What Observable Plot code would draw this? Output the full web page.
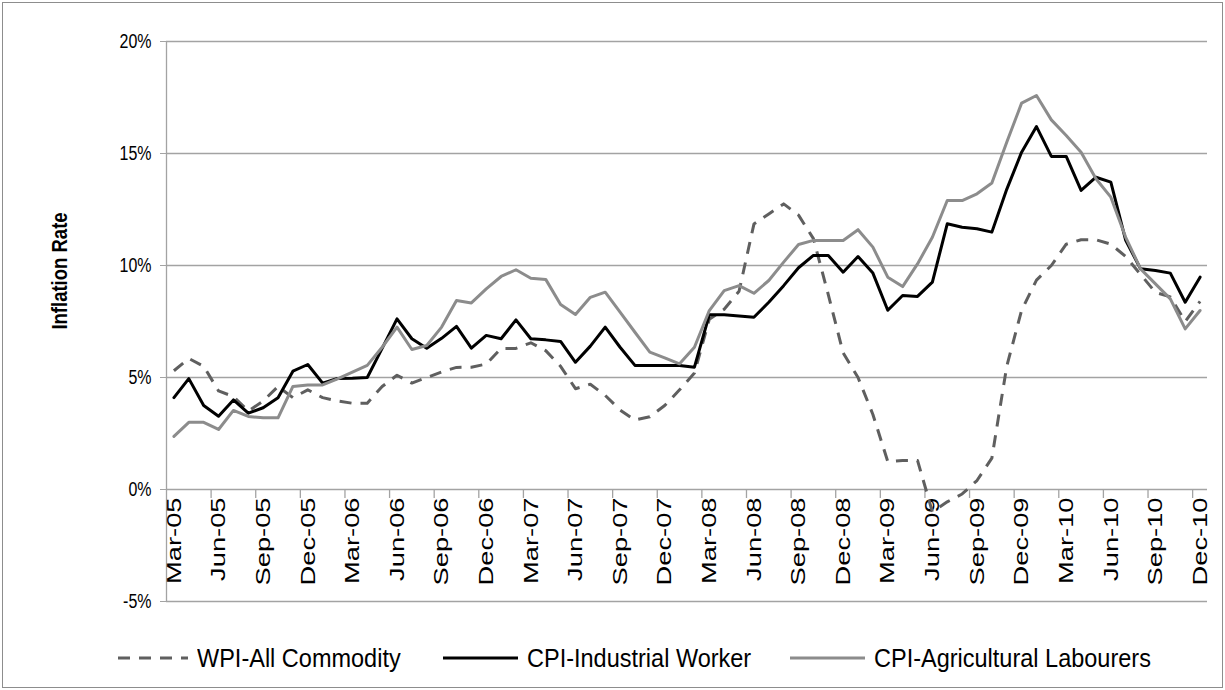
<!DOCTYPE html>
<html>
<head>
<meta charset="utf-8">
<script src="https://cdn.jsdelivr.net/npm/d3@7"></script>
<script src="https://cdn.jsdelivr.net/npm/@observablehq/plot@0.6"></script>
<style>
  html, body { margin: 0; padding: 0; background: #fff; }
  #page { position: relative; width: 1225px; height: 690px; font-family: "Liberation Sans", Arial, sans-serif; color: #000; }
  #frame { position: absolute; left: 2px; top: 2px; width: 1221px; height: 686px; box-sizing: border-box; border: 1px solid #8d8d8d; }
  #chart { position: absolute; left: 0; top: 0; }
  #ylabel { position: absolute; left: 60px; top: 271px; transform: translate(-50%, -50%) rotate(-90deg) scaleY(1.2); font-weight: bold; font-size: 18.5px; white-space: nowrap; }
  .leg { position: absolute; top: 645px; height: 26px; display: flex; align-items: center; font-size: 23.5px; white-space: nowrap; }
  .leg svg { margin-right: 9px; }
  .leg span { display: inline-block; transform: scaleY(1.1); transform-origin: left center; }
</style>
</head>
<body>
<div id="page">
  <div id="frame"></div>
  <div id="chart"></div>
  <div id="ylabel">Inflation Rate</div>
  <div id="legend"></div>
</div>
<script>
// Category labels (months)
const months = [
  "Mar-05","Apr-05","May-05","Jun-05","Jul-05","Aug-05","Sep-05","Oct-05","Nov-05","Dec-05",
  "Jan-06","Feb-06","Mar-06","Apr-06","May-06","Jun-06","Jul-06","Aug-06","Sep-06","Oct-06","Nov-06","Dec-06",
  "Jan-07","Feb-07","Mar-07","Apr-07","May-07","Jun-07","Jul-07","Aug-07","Sep-07","Oct-07","Nov-07","Dec-07",
  "Jan-08","Feb-08","Mar-08","Apr-08","May-08","Jun-08","Jul-08","Aug-08","Sep-08","Oct-08","Nov-08","Dec-08",
  "Jan-09","Feb-09","Mar-09","Apr-09","May-09","Jun-09","Jul-09","Aug-09","Sep-09","Oct-09","Nov-09","Dec-09",
  "Jan-10","Feb-10","Mar-10","Apr-10","May-10","Jun-10","Jul-10","Aug-10","Sep-10","Oct-10","Nov-10","Dec-10"
];

// Series values (percent)
const wpiAllCommodity = [
  5.3, 5.85, 5.5, 4.4, 4.15, 3.5, 3.95, 4.6, 4.1, 4.45,
  4.1, 3.95, 3.85, 3.85, 4.6, 5.1, 4.75, 5.0, 5.25, 5.45, 5.46, 5.6,
  6.3, 6.3, 6.55, 6.2, 5.5, 4.5, 4.7, 4.2, 3.55, 3.1, 3.25, 3.75,
  4.45, 5.2, 7.6, 8.05, 8.85, 11.85, 12.3, 12.75, 12.25, 11.2, 8.7, 6.1,
  5.0, 3.35, 1.25, 1.3, 1.3, -1.0, -0.55, -0.2, 0.4, 1.4, 5.5, 8.0,
  9.35, 10.0, 10.95, 11.15, 11.15, 10.95, 10.4, 9.6, 8.8, 8.6, 7.5, 8.4
];
const cpiIndustrialWorker = [
  4.1, 4.95, 3.75, 3.27, 4.0, 3.41, 3.65, 4.1, 5.28, 5.58,
  4.75, 4.96, 4.97, 5.0, 6.3, 7.62, 6.73, 6.31, 6.75, 7.28, 6.31, 6.88,
  6.73, 7.57, 6.73, 6.68, 6.61, 5.68, 6.4, 7.25, 6.35, 5.54, 5.54, 5.54,
  5.54, 5.46, 7.8, 7.8, 7.75, 7.69, 8.36, 9.1, 9.9, 10.45, 10.45, 9.7,
  10.4, 9.66, 8.0, 8.66, 8.62, 9.26, 11.86, 11.71, 11.64, 11.49, 13.4, 15.06,
  16.2, 14.87, 14.87, 13.35, 13.94, 13.72, 11.12, 9.85, 9.78, 9.66, 8.36, 9.48
];
const cpiAgriculturalLabourers = [
  2.37, 3.0, 3.0, 2.68, 3.53, 3.26, 3.2, 3.2, 4.6, 4.67,
  4.67, 4.94, 5.24, 5.54, 6.35, 7.25, 6.25, 6.43, 7.25, 8.44, 8.33, 8.96,
  9.51, 9.81, 9.43, 9.38, 8.26, 7.81, 8.58, 8.81, 7.92, 7.02, 6.13, 5.88,
  5.61, 6.35, 7.99, 8.88, 9.1, 8.76, 9.33, 10.15, 10.94, 11.12, 11.12, 11.12,
  11.6, 10.82, 9.48, 9.06, 10.07, 11.26, 12.9, 12.9, 13.2, 13.68, 15.5, 17.25,
  17.59, 16.5, 15.8, 15.06, 13.87, 13.05, 11.26, 9.85, 9.18, 8.51, 7.17, 7.99
];

// Axis ticks
const yTicks = [-5, 0, 5, 10, 15, 20];
const labelStep = 3;

const seriesNames = ["WPI-All Commodity", "CPI-Industrial Worker", "CPI-Agricultural Labourers"];
const seriesColors = ["#5f5f5f", "#000000", "#8c8c8c"];
const seriesDash = ["12,9", null, null];

const toRows = arr => arr.map((v, i) => ({i, v}));
const labelIdx = months.map((m, i) => i).filter(i => i % labelStep === 0);
const tickIdx = labelIdx.filter(i => i > 0).map(i => i - 0.5);

const chart = Plot.plot({
  width: 1225,
  height: 625,
  marginLeft: 166,
  marginRight: 18,
  marginTop: 41,
  marginBottom: 24,
  style: {fontFamily: "'Liberation Sans', Arial, sans-serif", fontSize: "16px", color: "#000", background: "transparent", overflow: "visible"},
  x: {type: "linear", domain: [-0.5, months.length - 0.5], axis: null},
  y: {domain: [-5, 20]},
  marks: [
    Plot.ruleY(yTicks, {stroke: "#a3a3a3", strokeWidth: 1.3}),
    Plot.ruleX([-0.5], {stroke: "#a3a3a3", strokeWidth: 1.3}),
    Plot.axisY(yTicks, {tickSize: 6, tickPadding: 9, tickFormat: d => `${d}%`, fontSize: 16, stroke: "#a3a3a3", fill: "#000", label: null}),
    Plot.ruleX(tickIdx, {x: d => d, y1: () => 0, y2: () => 0, insetBottom: -9, stroke: "#a3a3a3", strokeWidth: 1.3}),
    Plot.text(labelIdx, {x: d => d, y: () => 0, text: d => months[d], rotate: -90, textAnchor: "end", dy: 8, fontSize: 21, fill: "#000"}),
    Plot.line(toRows(wpiAllCommodity), {x: "i", y: "v", stroke: seriesColors[0], strokeWidth: 3, strokeDasharray: seriesDash[0], strokeLinecap: "butt", strokeLinejoin: "round"}),
    Plot.line(toRows(cpiIndustrialWorker), {x: "i", y: "v", stroke: seriesColors[1], strokeWidth: 3, strokeLinejoin: "round"}),
    Plot.line(toRows(cpiAgriculturalLabourers), {x: "i", y: "v", stroke: seriesColors[2], strokeWidth: 3, strokeLinejoin: "round"})
  ]
});
document.getElementById("chart").appendChild(chart);

// Stretch text glyphs to mimic the tall, narrow look of the original
function stretch(nodes, sx, sy) {
  nodes.forEach(node => {
    const t = node.getAttribute("transform");
    if (t) {
      node.setAttribute("transform", `${t} scale(${sx},${sy})`);
    } else {
      const x = +node.getAttribute("x") || 0, y = +node.getAttribute("y") || 0;
      node.removeAttribute("x");
      node.removeAttribute("y");
      node.setAttribute("transform", `translate(${x},${y}) scale(${sx},${sy})`);
    }
  });
}
const allText = Array.from(chart.querySelectorAll("text"));
stretch(allText.filter(n => months.includes(n.textContent)), 1.3, 1);
stretch(allText.filter(n => /%$/.test(n.textContent)), 1, 1.3);

// Legend
const legendLeft = [113, 443, 790];
const legend = document.getElementById("legend");
seriesNames.forEach((name, k) => {
  const item = document.createElement("div");
  item.className = "leg";
  item.style.left = legendLeft[k] + "px";
  const dash = seriesDash[k] ? `stroke-dasharray="12,9"` : "";
  item.innerHTML = `<svg width="75" height="10"><line x1="${seriesDash[k] ? 5 : 0}" y1="5" x2="75" y2="5" stroke="${seriesColors[k]}" stroke-width="3" ${dash}/></svg><span>${name}</span>`;
  legend.appendChild(item);
});
</script>
</body>
</html>
